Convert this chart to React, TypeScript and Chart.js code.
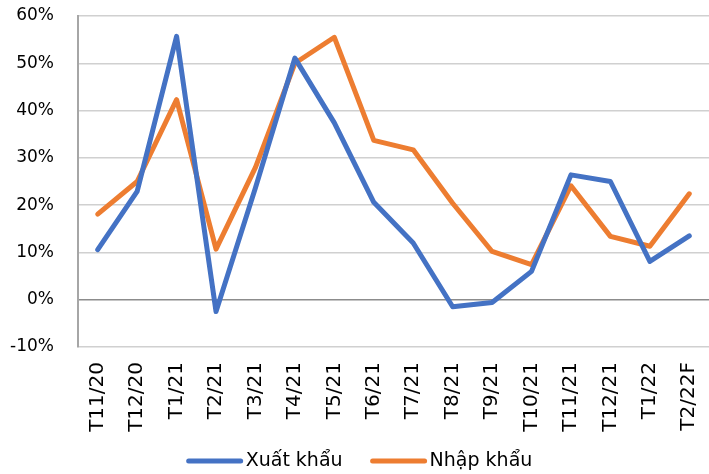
import React, { useEffect, useRef } from 'react';
import { Chart, registerables } from 'chart.js';

Chart.register(...registerables);

const categories = [
  'T11/20', 'T12/20', 'T1/21', 'T2/21', 'T3/21', 'T4/21', 'T5/21', 'T6/21',
  'T7/21', 'T8/21', 'T9/21', 'T10/21', 'T11/21', 'T12/21', 'T1/22', 'T2/22F',
];
const exportValues = [10.6, 22.9, 55.7, -2.5, 23.7, 51.1, 37.4, 20.6, 12.0, -1.5, -0.6, 6.0, 26.4, 25.0, 8.1, 13.5];
const importValues = [18.1, 25.0, 42.3, 10.7, 28.0, 50.0, 55.5, 33.7, 31.7, 20.4, 10.2, 7.4, 24.1, 13.4, 11.3, 22.4];
const seriesNames = ['Xuất khẩu', 'Nhập khẩu'];
const seriesColors = ['#4472C4', '#ED7D31'];
const yMin = -10;
const yMax = 60;
const yStep = 10;

const FONT = '"DejaVu Sans", sans-serif';

const legendPlugin = {
  id: 'customLegend',
  afterDraw(chart: any) {
    const ctx = chart.ctx as CanvasRenderingContext2D;
    ctx.save();
    ctx.font = `19px ${FONT}`;
    const lineW = 56;
    const gapText = 3;
    const gapItem = 28;
    const items = chart.data.datasets.map((ds: any) => ({
      label: ds.label as string,
      color: ds.borderColor as string,
      w: ctx.measureText(ds.label).width,
    }));
    const total =
      items.reduce((s: number, it: any) => s + lineW + gapText + it.w, 0) +
      gapItem * (items.length - 1);
    let x = chart.width / 2 + 5 - total / 2;
    const y = chart.height - 13;
    items.forEach((it: any) => {
      ctx.strokeStyle = it.color;
      ctx.lineWidth = 5;
      ctx.lineCap = 'round';
      ctx.beginPath();
      ctx.moveTo(x + 2, y);
      ctx.lineTo(x + lineW - 2, y);
      ctx.stroke();
      x += lineW + gapText;
      ctx.fillStyle = '#000000';
      ctx.textAlign = 'left';
      ctx.textBaseline = 'middle';
      ctx.fillText(it.label, x, y);
      x += it.w + gapItem;
    });
    ctx.restore();
  },
};

export default function App() {
  const canvasRef = useRef<HTMLCanvasElement | null>(null);

  useEffect(() => {
    document.body.style.margin = '0';
    const canvas = canvasRef.current;
    if (!canvas) return;
    const chart = new Chart(canvas, {
      type: 'line',
      data: {
        labels: categories,
        datasets: [
          {
            label: seriesNames[0],
            data: exportValues,
            borderColor: seriesColors[0],
            backgroundColor: seriesColors[0],
            borderWidth: 5,
            pointRadius: 0,
            tension: 0,
            borderJoinStyle: 'round',
            borderCapStyle: 'round',
          },
          {
            label: seriesNames[1],
            data: importValues,
            borderColor: seriesColors[1],
            backgroundColor: seriesColors[1],
            borderWidth: 5,
            pointRadius: 0,
            tension: 0,
            borderJoinStyle: 'round',
            borderCapStyle: 'round',
          },
        ],
      },
      options: {
        animation: false,
        responsive: false,
        maintainAspectRatio: false,
        layout: { padding: { top: 16, left: 0, right: 0, bottom: 0 } },
        plugins: {
          legend: { display: false },
          tooltip: { enabled: false },
        },
        scales: {
          x: {
            offset: true,
            grid: { display: false, drawTicks: false },
            border: { display: false },
            ticks: {
              minRotation: 90,
              maxRotation: 90,
              padding: 15,
              color: '#000000',
              font: { family: FONT, size: 20 },
              autoSkip: false,
            },
            afterFit: (scale: any) => {
              scale.height = 127;
              scale.paddingLeft = 0;
              scale.paddingRight = 0;
              scale.paddingTop = 0;
              scale.paddingBottom = 0;
            },
          },
          y: {
            min: yMin,
            max: yMax,
            ticks: {
              stepSize: yStep,
              padding: 24,
              color: '#000000',
              font: { family: FONT, size: 17 },
              callback: (v: any) => `${v}%`,
            },
            grid: {
              drawTicks: false,
              lineWidth: 1.5,
              color: (c: any) => (c.tick && c.tick.value === 0 ? '#8c8c8c' : '#d0d0d0'),
            },
            border: { display: true, color: '#a6a6a6', width: 2 },
            afterFit: (scale: any) => {
              scale.width = 78;
              scale.paddingTop = 0;
              scale.paddingBottom = 0;
              scale.paddingLeft = 0;
              scale.paddingRight = 0;
            },
          },
        },
      },
      plugins: [legendPlugin],
    });
    return () => chart.destroy();
  }, []);

  return (
    <div style={{ width: 709, height: 474 }}>
      <canvas ref={canvasRef} width={709} height={474} style={{ display: 'block' }} />
    </div>
  );
}
